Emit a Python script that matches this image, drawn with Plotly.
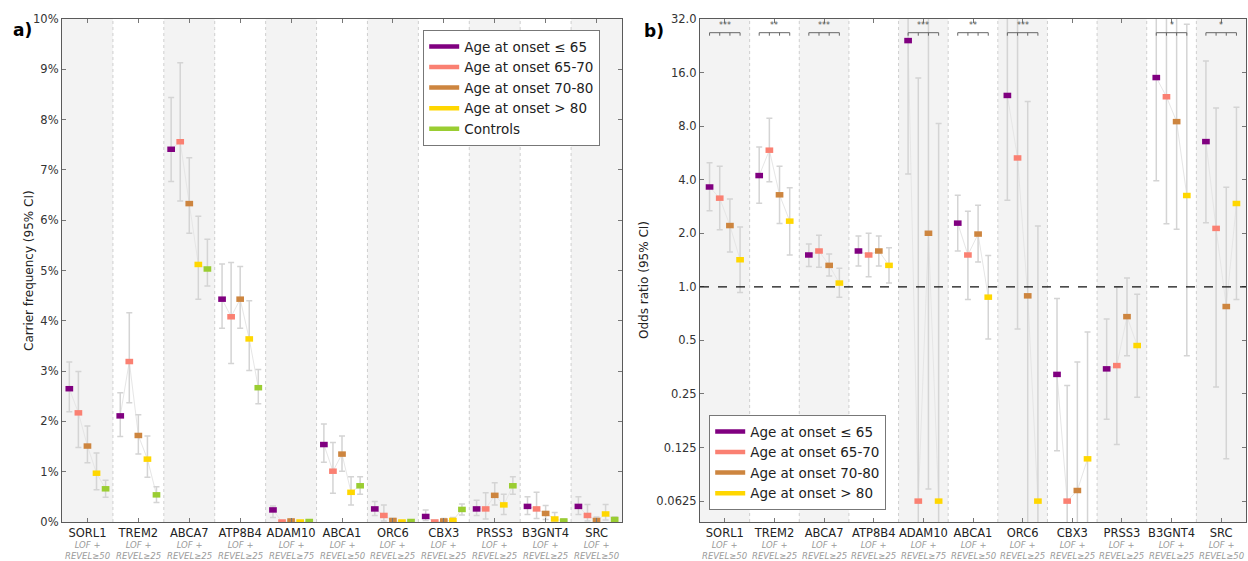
import math
import plotly.graph_objects as go

# ---------------------------------------------------------------- data
genes = ["SORL1", "TREM2", "ABCA7", "ATP8B4", "ADAM10", "ABCA1",
         "ORC6", "CBX3", "PRSS3", "B3GNT4", "SRC"]
criteria = ["REVEL≥50", "REVEL≥25", "REVEL≥25", "REVEL≥25", "REVEL≥75", "REVEL≥50",
            "REVEL≥25", "REVEL≥25", "REVEL≥25", "REVEL≥25", "REVEL≥50"]

group_names = ["Age at onset ≤ 65", "Age at onset 65-70", "Age at onset 70-80",
               "Age at onset > 80", "Controls"]
group_colors = ["#800080", "#fa8072", "#cd853f", "#ffd700", "#9acd32"]

# carrier frequency (%) with 95% CI
freq_le65 = [2.65, 2.11, 7.41, 4.43, 0.24, 1.54, 0.26, 0.11, 0.26, 0.31, 0.31]
freq_le65_lo = [2.19, 1.70, 6.77, 3.85, 0.09, 1.19, 0.13, 0.03, 0.13, 0.15, 0.15]
freq_le65_hi = [3.18, 2.57, 8.44, 5.13, 0.32, 1.95, 0.41, 0.24, 0.43, 0.50, 0.50]

freq_65_70 = [2.17, 3.19, 7.56, 4.08, 0.00, 1.01, 0.13, 0.00, 0.26, 0.26, 0.13]
freq_65_70_lo = [1.48, 2.37, 6.38, 3.15, 0.00, 0.57, 0.02, 0.00, 0.06, 0.07, 0.02]
freq_65_70_hi = [2.99, 4.16, 9.13, 5.16, 0.02, 1.58, 0.34, 0.03, 0.58, 0.59, 0.35]

freq_70_80 = [1.51, 1.72, 6.33, 4.43, 0.02, 1.35, 0.03, 0.02, 0.53, 0.17, 0.03]
freq_70_80_lo = [1.18, 1.35, 5.74, 3.85, 0.00, 1.01, 0.00, 0.00, 0.34, 0.05, 0.00]
freq_70_80_hi = [1.91, 2.13, 7.24, 5.08, 0.06, 1.71, 0.07, 0.07, 0.78, 0.33, 0.10]

freq_gt80 = [0.97, 1.25, 5.12, 3.64, 0.00, 0.59, 0.00, 0.03, 0.34, 0.06, 0.16]
freq_gt80_lo = [0.64, 0.89, 4.43, 3.01, 0.00, 0.34, 0.00, 0.00, 0.15, 0.00, 0.04]
freq_gt80_hi = [1.37, 1.71, 6.08, 4.40, 0.02, 0.90, 0.02, 0.09, 0.55, 0.19, 0.35]

freq_ctrl = [0.66, 0.54, 5.03, 2.67, 0.01, 0.72, 0.01, 0.25, 0.72, 0.02, 0.05]
freq_ctrl_lo = [0.49, 0.39, 4.69, 2.35, 0.00, 0.55, 0.00, 0.14, 0.55, 0.00, 0.01]
freq_ctrl_hi = [0.83, 0.70, 5.62, 3.03, 0.02, 0.90, 0.02, 0.36, 0.90, 0.06, 0.10]

# odds ratios vs controls with 95% CI (0.0625 = floor of the axis)
or_le65 = [3.64, 4.22, 1.51, 1.59, 24.2, 2.28, 11.9, 0.322, 0.346, 15.0, 6.55]
or_le65_lo = [2.68, 2.95, 1.30, 1.31, 4.31, 1.59, 3.07, 0.12, 0.18, 3.94, 2.29]
or_le65_hi = [4.98, 6.11, 1.74, 1.93, 140.0, 3.27, 48.0, 0.86, 0.66, 60.0, 18.6]

or_65_70 = [3.15, 5.86, 1.59, 1.51, 0.0625, 1.51, 5.30, 0.0625, 0.361, 11.7, 2.13]
or_65_70_lo = [2.09, 3.89, 1.29, 1.14, 0.02, 0.85, 0.58, 0.02, 0.13, 2.26, 0.274]
or_65_70_hi = [4.76, 8.87, 1.95, 2.00, 14.9, 2.66, 60.0, 0.279, 1.0, 60.0, 10.1]

or_70_80 = [2.21, 3.29, 1.32, 1.59, 2.0, 1.98, 0.89, 0.0717, 0.68, 8.48, 0.775]
or_70_80_lo = [1.57, 2.27, 1.15, 1.31, 0.073, 1.38, 0.02, 0.02, 0.41, 2.11, 0.108]
or_70_80_hi = [3.12, 4.76, 1.53, 1.93, 60.0, 2.87, 11.0, 0.378, 1.12, 60.0, 3.63]

or_gt80 = [1.42, 2.34, 1.05, 1.32, 0.0625, 0.875, 0.0625, 0.108, 0.468, 3.26, 2.94]
or_gt80_lo = [0.93, 1.51, 0.875, 1.05, 0.02, 0.51, 0.02, 0.02, 0.24, 0.41, 0.85]
or_gt80_hi = [2.17, 3.60, 1.27, 1.66, 8.27, 1.50, 2.2, 0.557, 0.91, 29.9, 10.2]

significance = ["***", "**", "***", "", "***", "**", "***", "", "", "*", "*"]

freq_series = [
    (freq_le65, freq_le65_lo, freq_le65_hi),
    (freq_65_70, freq_65_70_lo, freq_65_70_hi),
    (freq_70_80, freq_70_80_lo, freq_70_80_hi),
    (freq_gt80, freq_gt80_lo, freq_gt80_hi),
    (freq_ctrl, freq_ctrl_lo, freq_ctrl_hi),
]
or_series = [
    (or_le65, or_le65_lo, or_le65_hi),
    (or_65_70, or_65_70_lo, or_65_70_hi),
    (or_70_80, or_70_80_lo, or_70_80_hi),
    (or_gt80, or_gt80_lo, or_gt80_hi),
]

# ---------------------------------------------------------------- style
FONT = "DejaVu Sans"
W, H = 1248, 561
TOP_PX, BOT_PX = 19, 522
ERR_COLOR = "#d4d4d4"
LINK_COLOR = "#e6e6e6"
BAND_COLOR = "#f3f3f3"
SEP_COLOR = "#cfcfcf"
FRAME_COLOR = "#5a5a5a"
DX_LEFT = 0.178
DX_RIGHT = 0.205

n_genes = len(genes)
fig = go.Figure()


def offsets(n, step):
    return [(k - (n - 1) / 2) * step for k in range(n)]


def add_panel(series, step, xa, ya, legend_name):
    offs = offsets(len(series), step)
    # thin grey line joining the groups of each gene
    lx, ly = [], []
    for g in range(n_genes):
        for k, (vals, _, _) in enumerate(series):
            lx.append(g + offs[k])
            ly.append(vals[g])
        lx.append(None)
        ly.append(None)
    fig.add_trace(go.Scatter(x=lx, y=ly, mode="lines", xaxis=xa, yaxis=ya,
                             line=dict(color=LINK_COLOR, width=1),
                             hoverinfo="skip", showlegend=False))
    for k, (vals, lo, hi) in enumerate(series):
        xs = [g + offs[k] for g in range(n_genes)]
        fig.add_trace(go.Scatter(
            x=xs, y=vals, mode="markers", xaxis=xa, yaxis=ya,
            name=group_names[k], showlegend=False,
            marker=dict(symbol="line-ew", size=5.5, color=group_colors[k],
                        line=dict(width=5.5, color=group_colors[k])),
            error_y=dict(type="data", symmetric=False,
                         array=[h - v for h, v in zip(hi, vals)],
                         arrayminus=[v - l for v, l in zip(vals, lo)],
                         color=ERR_COLOR, thickness=1.5, width=3),
        ))
    for k in range(len(series)):
        fig.add_trace(go.Scatter(
            x=[None], y=[None], mode="lines", xaxis=xa, yaxis=ya,
            name=group_names[k], legend=legend_name,
            line=dict(color=group_colors[k], width=4.5)))


add_panel(freq_series, DX_LEFT, "x", "y", "legend")
add_panel(or_series, DX_RIGHT, "x2", "y2", "legend2")

shapes = []
annotations = []
for xa, ya in (("x", "y"), ("x2", "y2")):
    for g in range(n_genes):
        if g % 2 == 0:
            shapes.append(dict(type="rect", xref=xa, yref=f"{ya} domain",
                               x0=g - 0.5, x1=g + 0.5, y0=0, y1=1,
                               fillcolor=BAND_COLOR, line=dict(width=0), layer="below"))
    for g in range(n_genes - 1):
        shapes.append(dict(type="line", xref=xa, yref=f"{ya} domain",
                           x0=g + 0.5, x1=g + 0.5, y0=0, y1=1,
                           line=dict(color=SEP_COLOR, width=1, dash="dot"), layer="below"))
    for g in range(n_genes):
        annotations.append(dict(
            x=g, xref=xa, y=1 - 550.5 / H, yref="paper", yanchor="middle",
            text=f"<i>LOF +<br>{criteria[g]}</i>", showarrow=False,
            font=dict(family=FONT, size=8.5, color="#9a9a9a")))

# reference line at OR = 1
shapes.append(dict(type="line", xref="x2 domain", yref="y2", x0=0, x1=1, y0=1, y1=1,
                   line=dict(color="#111111", width=1.2, dash="dash"), layer="above"))

# significance brackets across the four onset groups
offs_r = offsets(len(or_series), DX_RIGHT)
span = BOT_PX - TOP_PX
y_bar = (BOT_PX - 32.7) / span
y_tick = (BOT_PX - 35.7) / span
y_star = (BOT_PX - 26.0) / span
for g, s in enumerate(significance):
    if not s:
        continue
    shapes.append(dict(type="line", xref="x2", yref="y2 domain",
                       x0=g + offs_r[0], x1=g + offs_r[-1], y0=y_bar, y1=y_bar,
                       line=dict(color="#666666", width=1)))
    for o in offs_r:
        shapes.append(dict(type="line", xref="x2", yref="y2 domain",
                           x0=g + o, x1=g + o, y0=y_bar, y1=y_tick,
                           line=dict(color="#666666", width=1)))
    annotations.append(dict(x=g, xref="x2", y=y_star, yref="y2 domain",
                            text=s, showarrow=False, yanchor="middle",
                            font=dict(family=FONT, size=8, color="#555555")))

# axis titles and panel letters
annotations += [
    dict(x=20 / W, y=1 - 271 / H, xref="paper", yref="paper", text="Carrier frequency (95% CI)",
         textangle=-90, showarrow=False, font=dict(family=FONT, size=12, color="#222222")),
    dict(x=644 / W, y=1 - 280 / H, xref="paper", yref="paper", text="Odds ratio (95% CI)",
         textangle=-90, showarrow=False, font=dict(family=FONT, size=12, color="#222222")),
    dict(x=11 / W, y=1 - 18.5 / H, xref="paper", yref="paper", text="<b>a)</b>",
         xanchor="left", showarrow=False, font=dict(family=FONT, size=17, color="#000000")),
    dict(x=642 / W, y=1 - 19 / H, xref="paper", yref="paper", text="<b>b)</b>",
         xanchor="left", showarrow=False, font=dict(family=FONT, size=17, color="#000000")),
]

common_x = dict(range=[-0.5, n_genes - 0.5], tickvals=list(range(n_genes)), ticktext=genes,
                tickangle=0, automargin=False,
                ticks="inside", ticklen=4, tickcolor="#777777", showline=True, mirror="ticks",
                linecolor=FRAME_COLOR, linewidth=1.2, showgrid=False, zeroline=False,
                tickfont=dict(family=FONT, size=11.5, color="#222222"))
common_y = dict(ticks="inside", ticklen=4, tickcolor="#777777", showline=True, mirror="ticks",
                automargin=False,
                linecolor=FRAME_COLOR, linewidth=1.2, showgrid=False, zeroline=False,
                tickfont=dict(family=FONT, size=11.5, color="#333333"))
y_dom = [1 - BOT_PX / H, 1 - TOP_PX / H]

or_ticks = [0.0625, 0.125, 0.25, 0.5, 1.0, 2.0, 4.0, 8.0, 16.0, 32.0]
or_labels = ["0.0625", "0.125", "0.25", "0.5", "1.0", "2.0", "4.0", "8.0", "16.0", "32.0"]
pct_ticks = list(range(0, 11))

legend_style = dict(bgcolor="white", bordercolor="#777777", borderwidth=1.2,
                    font=dict(family=FONT, size=13.5, color="#222222"))

fig.update_layout(
    width=W, height=H, margin=dict(l=0, r=0, t=0, b=0, autoexpand=False),
    paper_bgcolor="white", plot_bgcolor="white",
    font=dict(family=FONT, color="#222222"),
    xaxis=dict(domain=[62 / W, 622 / W], anchor="y", **common_x),
    yaxis=dict(domain=y_dom, anchor="x", range=[0, 10], tickvals=pct_ticks,
               ticktext=[f"{t}%" for t in pct_ticks], **common_y),
    xaxis2=dict(domain=[700 / W, 1246 / W], anchor="y2", **common_x),
    yaxis2=dict(domain=y_dom, anchor="x2", type="log",
                range=[math.log10(2 ** -4.39), math.log10(32)],
                tickvals=or_ticks, ticktext=or_labels, **common_y),
    legend=dict(x=423 / W, y=1 - 30 / H, xanchor="left", yanchor="top", **legend_style),
    legend2=dict(x=709 / W, y=1 - 510 / H, xanchor="left", yanchor="bottom", **legend_style),
    shapes=shapes, annotations=annotations,
)

fig.write_html("out.html")
